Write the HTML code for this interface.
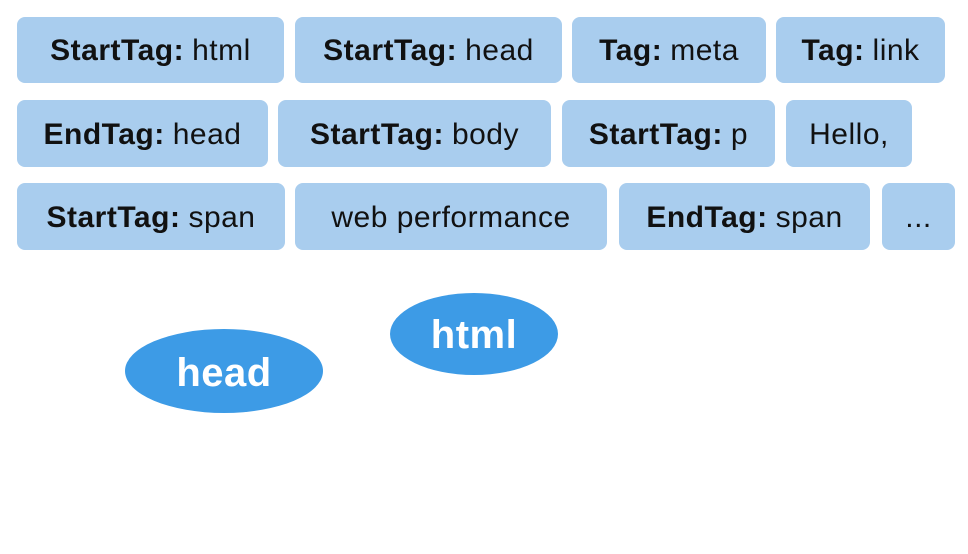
<!DOCTYPE html>
<html><head><meta charset="utf-8"><style>
body{margin:0;width:968px;height:554px;background:#fff;position:relative;overflow:hidden;font-family:"Liberation Sans",Arial,sans-serif}
.b{position:absolute;background:#a9cdee;border-radius:8px;display:flex;align-items:center;justify-content:center;font-size:30px;letter-spacing:0.5px;color:#111;white-space:nowrap;padding-top:2px;box-sizing:border-box}
.b b{margin-right:8px}
</style></head><body>
<div class="b" style="left:17px;top:17px;width:267px;height:66px"><b>StartTag:</b>html</div>
<div class="b" style="left:295px;top:17px;width:267px;height:66px"><b>StartTag:</b>head</div>
<div class="b" style="left:572px;top:17px;width:194px;height:66px"><b>Tag:</b>meta</div>
<div class="b" style="left:776px;top:17px;width:169px;height:66px"><b>Tag:</b>link</div>
<div class="b" style="left:17px;top:100px;width:251px;height:67px"><b>EndTag:</b>head</div>
<div class="b" style="left:278px;top:100px;width:273px;height:67px"><b>StartTag:</b>body</div>
<div class="b" style="left:562px;top:100px;width:213px;height:67px"><b>StartTag:</b>p</div>
<div class="b" style="left:786px;top:100px;width:126px;height:67px">Hello,</div>
<div class="b" style="left:17px;top:183px;width:268px;height:67px"><b>StartTag:</b>span</div>
<div class="b" style="left:295px;top:183px;width:312px;height:67px">web performance</div>
<div class="b" style="left:619px;top:183px;width:251px;height:67px"><b>EndTag:</b>span</div>
<div class="b" style="left:882px;top:183px;width:73px;height:67px">...</div>
<svg width="968" height="554" style="position:absolute;left:0;top:0">
<ellipse cx="224" cy="371" rx="99" ry="42" fill="#3d9be6"/>
<ellipse cx="474" cy="334" rx="84" ry="41" fill="#3d9be6"/>
<text x="224" y="386" text-anchor="middle" font-family="Liberation Sans,Arial,sans-serif" font-weight="bold" font-size="40" letter-spacing="0.5" fill="#fff">head</text>
<text x="474" y="348" text-anchor="middle" font-family="Liberation Sans,Arial,sans-serif" font-weight="bold" font-size="40" letter-spacing="0.5" fill="#fff">html</text>
</svg>
</body></html>
